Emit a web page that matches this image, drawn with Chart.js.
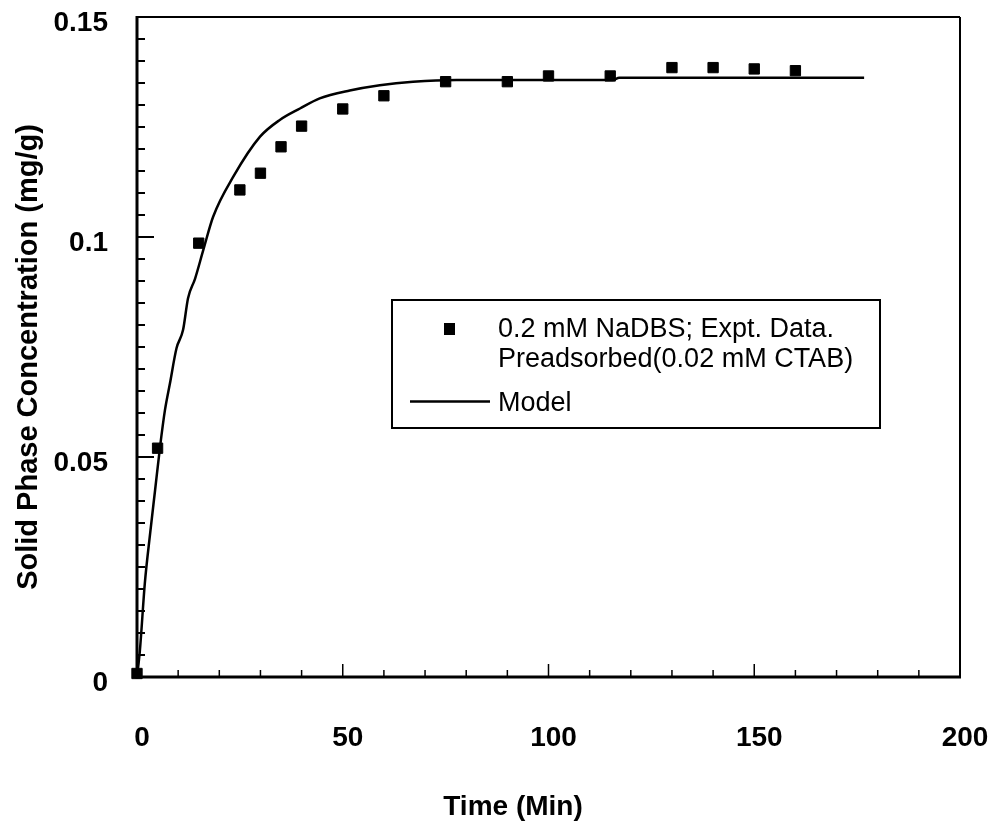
<!DOCTYPE html>
<html><head><meta charset="utf-8">
<script src="https://cdn.jsdelivr.net/npm/chart.js@4.4.0/dist/chart.umd.min.js"></script>
<style>html,body{margin:0;padding:0;background:#fff}#wrap{width:995px;height:826px}</style>
</head><body><div id="wrap"><canvas id="c" width="995" height="826"></canvas></div>
<script>
// ---- data ----
const timeMin   = [0, 5, 15, 25, 30, 35, 40, 50, 60, 75, 90, 100, 115, 130, 140, 150, 160];
const concExpt  = [0.0008, 0.052, 0.0986, 0.1107, 0.1145, 0.1205, 0.1252, 0.1291, 0.1321, 0.1353, 0.1353, 0.1366, 0.1366, 0.1385, 0.1385, 0.1382, 0.1378];
const modelTime = [0, 0.7, 1.9, 3.2, 4.4, 5.6, 6.8, 8.0, 9.6, 11.2, 12.4, 14.1, 16.1, 18.5, 23.4, 29.9, 34.7, 39.6, 44.4, 51.7, 59, 67.1, 77.6, 115.6, 117.2, 176.7];
const modelConc = [0, 0.006, 0.0213, 0.0327, 0.0425, 0.0523, 0.0607, 0.0667, 0.0747, 0.0789, 0.0861, 0.0905, 0.097, 0.1046, 0.1137, 0.1228, 0.1266, 0.1292, 0.1315, 0.1333, 0.1345, 0.1353, 0.1357, 0.1357, 0.1362, 0.1362];
const xTickValues = [0, 50, 100, 150, 200];
const xTickLabels = ['0', '50', '100', '150', '200'];
const yTickValues = [0, 0.05, 0.1, 0.15];
const yTickLabels = ['0', '0.05', '0.1', '0.15'];
const xMinorStep = 10;
const yMinorStep = 0.005;
const seriesLabels = ['0.2 mM NaDBS; Expt. Data.', 'Preadsorbed(0.02 mM CTAB)', 'Model'];
const xTitle = 'Time (Min)';
const yTitle = 'Solid Phase Concentration (mg/g)';

const FONT = '"Liberation Sans", Arial, sans-serif';

const frameTicks = {
  id: 'frameTicks',
  beforeDatasetsDraw(chart) {
    const {ctx, chartArea: a, scales: {x, y}} = chart;
    ctx.save();
    ctx.strokeStyle = '#000';
    const seg = (x1, y1, x2, y2) => { ctx.beginPath(); ctx.moveTo(x1, y1); ctx.lineTo(x2, y2); ctx.stroke(); };
    ctx.lineWidth = 1.5;
    const nx = Math.round((x.max - x.min) / xMinorStep);
    for (let i = 0; i <= nx; i++) {
      const v = x.min + i * xMinorStep;
      const px = x.getPixelForValue(v);
      const major = xTickValues.includes(v);
      seg(px, a.bottom, px, a.bottom - (major ? 13 : 7));
    }
    ctx.lineWidth = 2;
    const ny = Math.round((y.max - y.min) / yMinorStep);
    for (let i = 0; i <= ny; i++) {
      const v = y.min + i * yMinorStep;
      const py = y.getPixelForValue(v);
      const major = i % 10 === 0;
      seg(a.left, py, a.left + (major ? 17 : 8), py);
    }
    // frame
    ctx.lineWidth = 2;
    seg(a.left, a.top, a.right, a.top);
    seg(a.right, a.top, a.right, a.bottom);
    ctx.lineWidth = 3;
    seg(a.left, a.top - 1, a.left, a.bottom + 1.5);
    seg(a.left - 1.5, a.bottom, a.right + 1, a.bottom);
    ctx.restore();
  }
};

const titlesAndLegend = {
  id: 'titlesAndLegend',
  afterDatasetsDraw(chart) {
    const ctx = chart.ctx;
    ctx.save();
    // axis titles
    ctx.fillStyle = '#000';
    ctx.textAlign = 'center';
    ctx.textBaseline = 'middle';
    ctx.font = 'bold 28px ' + FONT;
    ctx.fillText(xTitle, 513, 807);
    ctx.save();
    ctx.translate(29, 357);
    ctx.rotate(-Math.PI / 2);
    ctx.font = 'bold 29px ' + FONT;
    ctx.fillText(yTitle, 0, 0);
    ctx.restore();
    // legend box
    const bx = 392, by = 300, bw = 488, bh = 128;
    ctx.fillStyle = '#fff';
    ctx.fillRect(bx, by, bw, bh);
    ctx.lineWidth = 2;
    ctx.strokeStyle = '#000';
    ctx.strokeRect(bx, by, bw, bh);
    ctx.fillStyle = '#000';
    ctx.font = '27px ' + FONT;
    ctx.textBaseline = 'alphabetic';
    ctx.textAlign = 'left';
    ctx.fillText(seriesLabels[0], 498, 337);
    ctx.fillText(seriesLabels[1], 498, 367);
    ctx.fillText(seriesLabels[2], 498, 411);
    ctx.fillRect(444, 323, 11, 12);
    ctx.lineWidth = 2.5;
    ctx.beginPath(); ctx.moveTo(410, 401.5); ctx.lineTo(490, 401.5); ctx.stroke();
    ctx.restore();
  }
};

const tickFont = {family: FONT, size: 28, weight: 'bold'};

new Chart(document.getElementById('c'), {
  type: 'scatter',
  data: {
    datasets: [
      {
        label: seriesLabels[0] + ' ' + seriesLabels[1],
        data: timeMin.map((t, i) => ({x: t, y: concExpt[i]})),
        showLine: false,
        pointStyle: 'rect',
        pointRadius: 7.3,
        pointBackgroundColor: '#000',
        pointBorderColor: '#000',
        pointBorderWidth: 1,
        clip: false,
        order: 0
      },
      {
        label: seriesLabels[2],
        data: modelTime.map((t, i) => ({x: t, y: modelConc[i]})),
        showLine: true,
        pointRadius: 0,
        borderColor: '#000',
        borderWidth: 2.5,
        cubicInterpolationMode: 'monotone',
        fill: false,
        clip: false,
        order: 1
      }
    ]
  },
  options: {
    responsive: false,
    devicePixelRatio: 1,
    animation: false,
    events: [],
    layout: {padding: {top: 17, right: 35, left: 0, bottom: 0}},
    plugins: {legend: {display: false}, tooltip: {enabled: false}},
    scales: {
      x: {
        type: 'linear', min: 0, max: 200,
        afterBuildTicks: s => { s.ticks = xTickValues.map(v => ({value: v})); },
        grid: {display: false, drawTicks: false},
        border: {display: false},
        ticks: {padding: 44, labelOffset: 5, font: tickFont, color: '#000', maxRotation: 0, autoSkip: false,
          callback: (v, i) => xTickLabels[i]},
        title: {display: false, text: xTitle},
        afterFit: s => { s.height = 149; s.paddingLeft = 0; s.paddingRight = 0; }
      },
      y: {
        type: 'linear', min: 0, max: 0.15,
        afterBuildTicks: s => { s.ticks = yTickValues.map(v => ({value: v})); },
        grid: {display: false, drawTicks: false},
        border: {display: false},
        ticks: {padding: 29, labelOffset: 6, font: tickFont, color: '#000', autoSkip: false,
          callback: (v, i) => yTickLabels[i]},
        title: {display: false, text: yTitle},
        afterFit: s => { s.width = 137; s.paddingTop = 0; s.paddingBottom = 0; }
      }
    }
  },
  plugins: [frameTicks, titlesAndLegend]
});
</script>
</body></html>
